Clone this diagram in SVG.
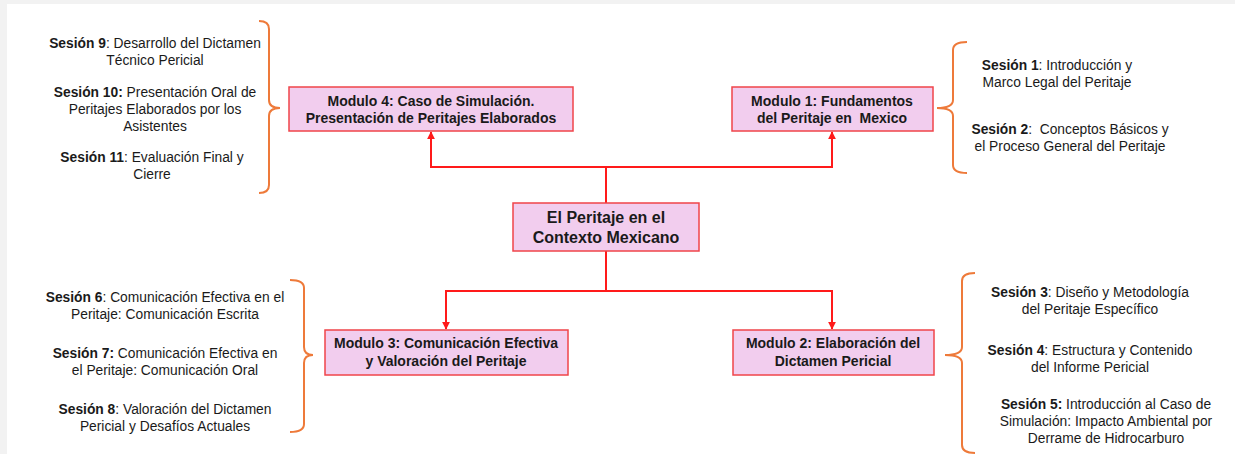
<svg xmlns="http://www.w3.org/2000/svg" width="1235" height="454" viewBox="0 0 1235 454">
<defs>
<style>
.box{fill:#f2cdee;stroke:#f0444a;stroke-width:1.5}
.mt{font-family:"Liberation Sans",Arial,sans-serif;font-size:14px;font-weight:bold;fill:#1a1a1a;text-anchor:middle}
.ct{font-family:"Liberation Sans",Arial,sans-serif;font-size:16px;font-weight:bold;fill:#1a1a1a;text-anchor:middle}
.st{font-family:"Liberation Sans",Arial,sans-serif;font-size:13.8px;fill:#1a1a1a;text-anchor:middle}
.st tspan.b{font-weight:bold}
.con{fill:none;stroke:#ff1a1a;stroke-width:2}
.brace{fill:none;stroke:#ee7a3a;stroke-width:2}
</style>
<marker id="arr" viewBox="0 0 10 10" refX="9" refY="5" markerWidth="4" markerHeight="4" orient="auto">
<path d="M0,0 L10,5 L0,10 z" fill="#ff1a1a"/>
</marker>
</defs>
<rect x="0" y="0" width="1235" height="454" fill="#f2f2f2"/>
<rect x="7" y="4" width="1228" height="450" fill="#ffffff"/>

<g id="connectors">
<path class="con" d="M606,203 V167 H431 V132" marker-end="url(#arr)"/>
<path class="con" d="M606,167 H832 V132" marker-end="url(#arr)"/>
<path class="con" d="M606,251 V291 H446 V329" marker-end="url(#arr)"/>
<path class="con" d="M606,291 H832 V329" marker-end="url(#arr)"/>
</g>

<g id="braces">
<path class="brace" d="M259,21 Q269,21 269,29 V100 Q269,108 280,108 Q269,108 269,116 V185 Q269,193 259,193"/>
<path class="brace" d="M967,42 Q953,42 953,50 V100 Q953,108 937,108 Q953,108 953,116 V165 Q953,173 967,173"/>
<path class="brace" d="M290,280 Q304,280 304,288 V347 Q304,355 313,355 Q304,355 304,363 V424 Q304,432 290,432"/>
<path class="brace" d="M975,273 Q962,273 962,281 V347 Q962,355 945,355 Q962,355 962,363 V445 Q962,453 975,453"/>
</g>

<g id="center">
<rect class="box" x="513" y="203" width="186" height="48"/>
<text class="ct" x="606" y="223">El Peritaje en el</text>
<text class="ct" x="606" y="243">Contexto Mexicano</text>
</g>

<g id="mod4">
<rect class="box" x="289" y="87" width="284" height="44"/>
<text class="mt" x="431" y="106">Modulo 4: Caso de Simulación.</text>
<text class="mt" x="431" y="123">Presentación de Peritajes Elaborados</text>
</g>

<g id="mod1">
<rect class="box" x="732" y="87" width="201" height="44"/>
<text class="mt" x="832" y="106">Modulo 1: Fundamentos</text>
<text class="mt" x="832" y="123" xml:space="preserve">del Peritaje en  Mexico</text>
</g>

<g id="mod3">
<rect class="box" x="325" y="330" width="243" height="45"/>
<text class="mt" x="446" y="348">Modulo 3: Comunicación Efectiva</text>
<text class="mt" x="446" y="366">y Valoración del Peritaje</text>
</g>

<g id="mod2">
<rect class="box" x="733" y="330" width="201" height="45"/>
<text class="mt" x="833" y="348">Modulo 2: Elaboración del</text>
<text class="mt" x="833" y="366">Dictamen Pericial</text>
</g>

<g id="sessions4">
<text class="st" x="155" y="48"><tspan class="b">Sesión 9</tspan>: Desarrollo del Dictamen</text>
<text class="st" x="155" y="65">Técnico Pericial</text>
<text class="st" x="155" y="97"><tspan class="b">Sesión 10:</tspan> Presentación Oral de</text>
<text class="st" x="155" y="114">Peritajes Elaborados por los</text>
<text class="st" x="155" y="131">Asistentes</text>
<text class="st" x="152" y="162"><tspan class="b">Sesión 11</tspan>: Evaluación Final y</text>
<text class="st" x="152" y="179">Cierre</text>
</g>

<g id="sessions1">
<text class="st" x="1057" y="70"><tspan class="b">Sesión 1</tspan>: Introducción y</text>
<text class="st" x="1057" y="87">Marco Legal del Peritaje</text>
<text class="st" x="1070" y="134" xml:space="preserve"><tspan class="b">Sesión 2</tspan>:  Conceptos Básicos y</text>
<text class="st" x="1070" y="151">el Proceso General del Peritaje</text>
</g>

<g id="sessions3">
<text class="st" x="165" y="302"><tspan class="b">Sesión 6</tspan>: Comunicación Efectiva en el</text>
<text class="st" x="165" y="319">Peritaje: Comunicación Escrita</text>
<text class="st" x="165" y="358"><tspan class="b">Sesión 7:</tspan> Comunicación Efectiva en</text>
<text class="st" x="165" y="375">el Peritaje: Comunicación Oral</text>
<text class="st" x="165" y="414"><tspan class="b">Sesión 8</tspan>: Valoración del Dictamen</text>
<text class="st" x="165" y="431">Pericial y Desafíos Actuales</text>
</g>

<g id="sessions2">
<text class="st" x="1090" y="297"><tspan class="b">Sesión 3</tspan>: Diseño y Metodología</text>
<text class="st" x="1090" y="314">del Peritaje Específico</text>
<text class="st" x="1090" y="355"><tspan class="b">Sesión 4</tspan>: Estructura y Contenido</text>
<text class="st" x="1090" y="372">del Informe Pericial</text>
<text class="st" x="1106" y="409"><tspan class="b">Sesión 5:</tspan> Introducción al Caso de</text>
<text class="st" x="1106" y="426">Simulación: Impacto Ambiental por</text>
<text class="st" x="1106" y="443">Derrame de Hidrocarburo</text>
</g>
</svg>
